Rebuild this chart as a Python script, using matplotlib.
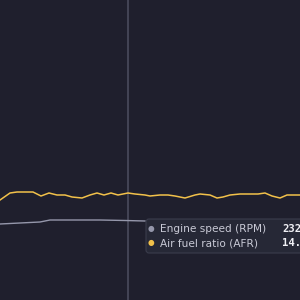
import matplotlib
matplotlib.use("Agg")
import matplotlib.pyplot as plt
from matplotlib.patches import FancyBboxPatch

# time axis (s) and the two logged channels
afr_t = [0, 10, 17, 33, 41, 49, 57, 65, 72, 82, 90, 97, 104, 111, 118, 128, 135, 145,
         150, 160, 168, 175, 185, 195, 200, 210, 217, 223, 230, 240, 258, 265, 272,
         280, 287, 300]
afr = [14.45, 14.80, 14.85, 14.85, 14.65, 14.80, 14.70, 14.70, 14.60, 14.55, 14.70,
       14.80, 14.70, 14.80, 14.70, 14.80, 14.75, 14.70, 14.65, 14.70, 14.70, 14.65,
       14.55, 14.70, 14.75, 14.70, 14.55, 14.60, 14.70, 14.75, 14.75, 14.80, 14.65,
       14.55, 14.70, 14.70]
rpm_t = [0, 20, 40, 50, 75, 100, 125, 145]
rpm = [2280, 2290, 2300, 2320, 2320, 2320, 2315, 2310]

cursor_t = 128
labels = ["Engine speed (RPM)", "Air fuel ratio (AFR)"]
readouts = ["2320", "14.72"]

bg = "#1f1f2d"
c_rpm = "#9597ab"
c_afr = "#f2c14a"

fig = plt.figure(figsize=(3, 3), dpi=100, facecolor=bg)
ax = fig.add_axes([0, 0, 1, 1], facecolor=bg)
ax2 = ax.twinx()
ax.set_xlim(0, 300)
ax.set_ylim(9.45, 24.45)
ax2.set_ylim(1520, 4520)
for a in (ax, ax2):
    a.axis("off")

ax.axvline(cursor_t, color="#4d4e60", lw=1.1, zorder=1)
ax.plot(afr_t, afr, color=c_afr, lw=1.1, zorder=3)
ax2.plot(rpm_t, rpm, color=c_rpm, lw=1.0, zorder=3)

# tooltip
box = FancyBboxPatch((146 / 300, 1 - 253 / 300), 0.6, 34 / 300,
                     boxstyle="round,pad=0,rounding_size=0.01",
                     transform=fig.transFigure, facecolor="#262836",
                     edgecolor="#3a3c4c", lw=0.8, zorder=10)
fig.patches.append(box)
for i, (lab, val, col) in enumerate(zip(labels, readouts, [c_rpm, c_afr])):
    y = 1 - (229 + i * 14) / 300
    fig.text(151 / 300, y, "\u25cf", color=col, fontsize=5.5, va="center", ha="center", zorder=11)
    fig.text(160 / 300, y, lab, color="#c9cad6", fontsize=7.6, va="center", zorder=11)
    fig.text(282 / 300, y, val, color="#f0f0f5", fontsize=7.6, va="center",
             family="DejaVu Sans Mono", weight="bold", zorder=11)

fig.savefig("out.png", dpi=100, facecolor=bg)
